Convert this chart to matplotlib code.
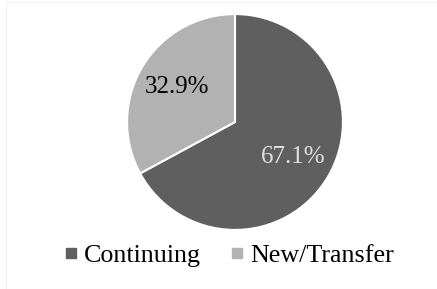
import matplotlib
matplotlib.use("Agg")
import matplotlib.pyplot as plt
from matplotlib.lines import Line2D
from matplotlib.patches import Rectangle

categories = ["Continuing", "New/Transfer"]
values = [67.1, 32.9]
colors = ["#5f5f5f", "#b2b2b2"]
pct_colors = ["#e0e0e0", "#000000"]

plt.rcParams['font.family'] = ['Liberation Serif', 'DejaVu Serif']

W, H = 437, 289
fig = plt.figure(figsize=(W / 100, H / 100), dpi=100)
fig.patch.set_facecolor("white")
fig.add_artist(Rectangle((6 / W, 0), 1 - 6 / W, 1 - 2 / H, transform=fig.transFigure,
                         fill=False, edgecolor="#f4f4f4", linewidth=0.8))

cx, cy, r = 235, 122, 109
ax = fig.add_axes([(cx - r) / W, (H - cy - r) / H, 2 * r / W, 2 * r / H])
wedges, texts, autotexts = ax.pie(values, colors=colors, startangle=90, counterclock=False,
                                  autopct="%.1f%%", pctdistance=0.63,
                                  wedgeprops=dict(edgecolor="white", linewidth=1.5))
for t, c in zip(autotexts, pct_colors):
    t.set_color(c)
    t.set_fontsize(18)
ax.set_xlim(-1.01, 1.01)
ax.set_ylim(-1.01, 1.01)
ax.set_aspect("equal")
ax.axis("off")

handles = [Line2D([], [], marker="s", linestyle="none", markersize=6.5,
                  markerfacecolor=c, markeredgecolor=c) for c in colors]
fig.legend(handles, categories, loc="center", bbox_to_anchor=(229.5 / W, 1 - 255 / H), ncol=2,
           frameon=False, fontsize=18.7, handlelength=0.4, handletextpad=0.3,
           columnspacing=1.2, borderpad=0)

fig.savefig("out.png", dpi=100)
